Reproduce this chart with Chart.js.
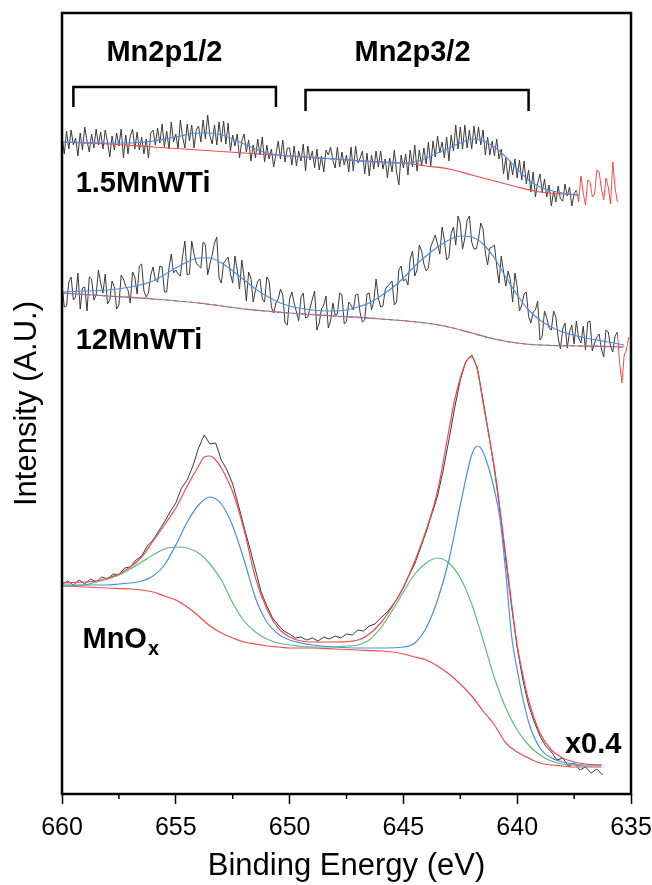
<!DOCTYPE html>
<html>
<head>
<meta charset="utf-8">
<title>Mn 2p XPS</title>
<script src="https://cdn.jsdelivr.net/npm/chart.js"></script>
<style>
  html, body { margin: 0; padding: 0; background: #fff; }
  #wrap { width: 652px; height: 885px; }
</style>
</head>
<body>
<div id="wrap"><canvas id="xps" width="652" height="885"></canvas></div>
<script>
// ---------------------------------------------------
// binding energy (eV) / intensity (a.u.)

// x axis
var majorTicks = [660, 655, 650, 645, 640, 635];
var minorTicks = [657.5, 652.5, 647.5, 642.5, 637.5];

// 1.5MnWTi (top) : raw every 0.1 eV from 660
var topRawStart = 660, topRawStep = 0.1;
var topRaw = [664, 646, 669, 651, 670, 655, 662, 644, 667, 650, 673, 659, 648, 666, 652, 671, 655, 668, 651, 670,
  658, 643, 664, 650, 667, 654, 671, 642, 665, 646, 664, 671, 651, 668, 650, 663, 646, 661, 642, 667,
  670, 655, 672, 657, 676, 653, 669, 651, 678, 658, 666, 651, 680, 663, 652, 676, 659, 675, 652, 670,
  674, 658, 680, 661, 685, 664, 656, 675, 655, 678, 658, 679, 656, 677, 649, 665, 654, 666, 642, 659,
  666, 648, 660, 639, 655, 642, 661, 645, 663, 638, 655, 641, 651, 633, 646, 659, 641, 660, 638, 652,
  652, 635, 654, 634, 649, 639, 656, 629, 654, 640, 649, 632, 651, 630, 644, 628, 650, 645, 653, 640,
  632, 653, 633, 648, 635, 645, 628, 653, 629, 654, 637, 642, 649, 626, 647, 624, 645, 631, 649, 633,
  649, 631, 641, 622, 642, 628, 650, 628, 615, 645, 632, 646, 625, 650, 633, 655, 629, 650, 634, 652,
  636, 658, 634, 659, 643, 664, 647, 658, 642, 663, 639, 665, 649, 675, 651, 673, 651, 675, 652, 670,
  651, 674, 656, 673, 655, 670, 645, 663, 645, 659, 644, 661, 641, 651, 626, 642, 620, 639, 625, 641,
  622, 640, 620, 639, 616, 630, 608, 628, 603, 617, 626, 608, 621, 603, 615, 594, 609, 598, 614, 601,
  599, 616, 604, 613, 594, 606, 610];
// end of the scan left outside the fit (red)
var topTailStart = 637.4, topTailStep = 0.1;
var topTail = [610, 598, 624, 607, 595, 620, 618, 603, 606, 630, 628, 611, 600, 622, 613, 596, 638, 612, 598];
var topFitE = [660, 658, 657, 656, 655, 654, 653.5, 653, 652.5, 652, 651.5, 651, 650.5, 650, 648, 646, 645, 644.5, 644, 643.5,
  643, 642.5, 642, 641.5, 641, 640.5, 640, 639.5, 639, 638, 637.3];
var topFit = [658, 657, 657, 659, 663, 667, 667, 665, 661, 656, 651, 647, 645, 644, 641, 638, 637, 638, 642, 647,
  652, 657, 661, 659, 653, 643, 631, 620, 613, 607, 605];
var topBgE = [660, 658, 656, 654, 652, 650, 648, 646, 645, 644, 643, 642, 641, 640, 639, 638, 637.3];
var topBg = [658, 656, 653, 650, 647, 644, 641, 638, 637, 634, 631, 625, 619, 613, 608, 606, 605];

// 12MnWTi (middle) : raw every 0.1 eV from 660
var midRawStart = 660, midRawStep = 0.1;
var midRaw = [516, 493, 494, 518, 523, 500, 503, 527, 491, 512, 513, 489, 523, 521, 500, 505, 530, 517, 507, 526,
  496, 500, 519, 513, 491, 495, 525, 521, 514, 510, 497, 528, 523, 506, 534, 536, 509, 503, 507, 525,
  533, 520, 518, 534, 533, 508, 508, 532, 546, 527, 530, 526, 524, 544, 559, 525, 526, 559, 546, 537,
  534, 532, 558, 555, 525, 536, 545, 557, 563, 522, 517, 537, 540, 543, 526, 517, 544, 530, 511, 540,
  523, 499, 528, 522, 498, 510, 519, 521, 501, 498, 523, 519, 493, 487, 497, 501, 511, 505, 477, 475,
  501, 508, 497, 488, 479, 503, 507, 482, 483, 492, 501, 509, 470, 477, 491, 495, 504, 472, 479, 497,
  485, 486, 507, 505, 476, 479, 498, 495, 490, 505, 506, 487, 478, 480, 506, 507, 490, 499, 521, 502,
  493, 494, 510, 514, 516, 519, 495, 498, 530, 534, 519, 521, 515, 541, 549, 524, 530, 555, 549, 536,
  529, 532, 553, 559, 565, 556, 546, 573, 560, 540, 543, 567, 573, 555, 584, 576, 551, 562, 580, 584,
  558, 551, 551, 561, 577, 571, 547, 535, 552, 553, 555, 534, 517, 544, 528, 514, 529, 520, 498, 527,
  513, 489, 495, 506, 508, 484, 477, 488, 490, 499, 460, 464, 489, 482, 472, 470, 489, 483, 462, 451,
  471, 477, 452, 468, 475, 456, 479, 462, 457, 474, 450, 478, 479, 449, 457, 463, 466, 451, 443, 470,
  468, 454, 448, 464, 468];
var midTailE = [635.6, 635.5, 635.4, 635.3, 635.2, 635.1];
var midTail = [468, 437, 417, 445, 450, 463];
var midFitE = [660, 659, 658, 657, 656, 655, 654.5, 654, 653.5, 653, 652.5, 652, 651.5, 651, 650.5, 650, 649, 648, 647.5, 647,
  646.5, 646, 645.5, 645, 644.5, 644, 643.5, 643, 642.5, 642, 641.5, 641, 640.5, 640, 639.5, 639, 638.5, 638, 637, 636, 635.3];
var midFit = [508, 509, 510, 513, 519, 532, 538, 542, 542, 537, 529, 520, 511, 504, 498, 494, 490, 489, 490, 493,
  497, 504, 512, 522, 534, 544, 553, 560, 564, 563, 556, 542, 523, 505, 490, 480, 473, 468, 462, 458, 455];
var midBgE = [660, 658, 656, 654, 652, 650, 648, 646, 644, 643, 642, 641, 640, 639, 637, 635.3];
var midBg = [507, 504, 501, 497, 491, 487, 484, 481, 477, 473, 467, 461, 457, 455, 454, 453];

// MnOx (bottom, x0.4) : raw every 0.25 eV from 660
var mnoxRawStart = 660, mnoxRawStep = 0.25;
var mnoxRaw = [216, 219, 215, 220, 216, 221, 218, 223, 221, 226,
  225, 232, 233, 240, 244, 254, 260, 269, 278, 288,
  297, 312, 320, 334, 352, 365, 356, 357, 340, 330,
  316, 295, 273, 252, 230, 208, 194, 182, 175, 169,
  166, 162, 163, 160, 162, 159, 163, 161, 164, 162,
  166, 165, 170, 169, 174, 176, 182, 187, 194, 202,
  212, 225, 236, 252, 268, 286, 304, 330, 360, 392,
  420, 439, 445, 432, 400, 366, 330, 288, 240, 194,
  152, 120, 95, 78, 64, 54, 48, 40, 42, 34,
  37, 30, 33, 27, 31, 25];
var mnoxEnvE = [660, 659, 658.5, 658, 657.5, 657, 656.5, 656, 655.5, 655, 654.5, 654, 653.75, 653.5, 653.25, 653, 652.5, 652, 651.5, 651,
  650.5, 650, 649.5, 649, 648, 647, 646.5, 646, 645.5, 645, 644.5, 644, 643.5, 643, 642.75, 642.5, 642.25, 642, 641.75, 641.5,
  641.25, 641, 640.75, 640.5, 640.25, 640, 639.75, 639.5, 639, 638.5, 638, 637.5, 637, 636.3];
var mnoxEnv = [217, 218, 219, 222, 226, 233, 243, 259, 275, 292, 314, 334, 343, 344, 340, 332, 308, 270, 222, 191,
  172, 163, 159, 158, 158, 160, 166, 177, 193, 213, 239, 270, 309, 370, 400, 422, 438, 443, 430, 397,
  365, 332, 290, 244, 197, 155, 125, 100, 67, 50, 42, 38, 36, 35];
var mnoxBlueE = [660, 658, 657.5, 657, 656.5, 656, 655.5, 655, 654.5, 654, 653.5, 653, 652.5, 652, 651.5, 651, 650.5, 650, 649.5, 649,
  648, 647, 646, 645, 644.5, 644, 643.5, 643, 642.5, 642, 641.75, 641.5, 641, 640.75, 640.5, 640.25, 640, 639.5, 639, 638.5,
  638, 637.5, 637, 636.3];
var mnoxBlue = [215, 215, 216, 217, 219, 224, 235, 255, 278, 295, 303, 296, 274, 240, 202, 178, 166, 160, 157, 155,
  153, 152, 152, 153, 157, 172, 200, 240, 295, 345, 354, 348, 310, 280, 227, 165, 130, 78, 52, 42,
  38, 36, 35, 35];
var mnoxGreenE = [660, 659, 658.5, 658, 657.5, 657, 656.5, 656, 655.5, 655, 654.5, 654, 653.5, 653, 652.5, 652, 651.5, 651, 650.5, 650,
  649, 648, 647.5, 647, 646.5, 646, 645.5, 645, 644.5, 644, 643.5, 643, 642.5, 642, 641.5, 641, 640.5, 640, 639.5, 639,
  638.5, 638, 637.5, 637, 636.3];
var mnoxGreen = [214, 215, 218, 221, 225, 231, 238, 245, 251, 253, 252, 247, 236, 220, 197, 179, 168, 161, 157, 155,
  153, 153, 154, 155, 160, 172, 189, 208, 226, 237, 242, 237, 222, 196, 160, 122, 92, 70, 55, 45,
  39, 36, 35, 34, 34];
var mnoxBgE = [660, 659, 658, 657, 656.5, 656, 655.5, 655, 654.5, 654, 653.5, 653, 652.5, 652, 651.5, 651, 650.5, 650, 649, 648,
  647, 646, 645.5, 645, 644.5, 644, 643.5, 643, 642.5, 642, 641.5, 641, 640.5, 640, 639.5, 639, 638.5, 638, 637.5, 637,
  636.5, 636.3];
var mnoxBg = [214, 213, 212, 211, 210, 208, 204, 200, 193, 184, 174, 167, 162, 158, 156, 154, 153, 152, 152, 151,
  150, 149, 148, 146, 143, 140, 134, 126, 116, 104, 89, 75, 57, 48, 42, 37, 35, 34, 33, 33,
  33, 33];

// peak brackets
var bracketLeft = [659.5, 649.3];
var bracketRight = [650.6, 639.5];
var bracketTop = [713, 710];
var bracketFoot = [693, 689];

// text labels (energy, intensity)
var labelText = ['Mn2p1/2', 'Mn2p3/2', '1.5MnWTi', '12MnWTi', 'MnO', 'x0.4'];
var labelSub = ['', '', '', '', 'x', ''];
var labelE = [655.5, 644.6, 659.4, 659.4, 659.1, 637.9];
var labelI = [747, 747, 616, 459, 160, 55];
var labelAlign = ['center', 'center', 'left', 'left', 'left', 'left'];

var RED = '#f24b4b', BLUE = '#4a8fe6', GREEN = '#5bbd7c', RAW = '#3a3a3a';
var FONT = "'Liberation Sans', Arial, Helvetica, sans-serif";

function pts(es, vs) {
  return vs.map(function (v, i) { return { x: es[i], y: v }; });
}
function stepPts(e0, step, vs) {
  return vs.map(function (v, i) { return { x: +(e0 - i * step).toFixed(2), y: v }; });
}
function fitLine(data, color, extra) {
  var ds = { data: data, borderColor: color, borderWidth: 1.2, pointRadius: 0,
    cubicInterpolationMode: 'monotone', fill: false };
  return Object.assign(ds, extra || {});
}
function rawLine(data, color) {
  return { data: data, borderColor: color, borderWidth: 1, pointRadius: 0, tension: 0, fill: false };
}

var datasets = [];
// brackets on top
for (var b = 0; b < bracketLeft.length; b++) {
  datasets.push({
    data: [{ x: bracketLeft[b], y: bracketFoot[b] }, { x: bracketLeft[b], y: bracketTop[b] },
           { x: bracketRight[b], y: bracketTop[b] }, { x: bracketRight[b], y: bracketFoot[b] }],
    borderColor: '#000', borderWidth: 2.5, pointRadius: 0, tension: 0, fill: false,
    borderJoinStyle: 'miter'
  });
}
// bottom: MnOx
datasets.push(fitLine(pts(mnoxEnvE, mnoxEnv), RED));
datasets.push(fitLine(pts(mnoxBlueE, mnoxBlue), BLUE));
datasets.push(fitLine(pts(mnoxGreenE, mnoxGreen), GREEN));
datasets.push(fitLine(pts(mnoxBgE, mnoxBg), RED));
datasets.push(rawLine(stepPts(mnoxRawStart, mnoxRawStep, mnoxRaw), RAW));
// middle: 12MnWTi
datasets.push(fitLine(pts(midFitE, midFit), BLUE));
datasets.push(fitLine(pts(midBgE, midBg), BLUE, { borderDash: [4, 4] }));
datasets.push(fitLine(pts(midBgE, midBg), RED));
datasets.push(rawLine(pts(midTailE, midTail), RED));
datasets.push(rawLine(stepPts(midRawStart, midRawStep, midRaw), RAW));
// top: 1.5MnWTi
datasets.push(fitLine(pts(topFitE, topFit), BLUE));
datasets.push(fitLine(pts(topBgE, topBg), RED));
datasets.push(rawLine(stepPts(topTailStart, topTailStep, topTail), RED));
datasets.push(rawLine(stepPts(topRawStart, topRawStep, topRaw), RAW));

// box, minor ticks and the text labels
var decorPlugin = {
  id: 'decor',
  afterDraw: function (chart) {
    var ctx = chart.ctx, a = chart.chartArea;
    var xs = chart.scales.x, ys = chart.scales.y;
    ctx.save();
    ctx.strokeStyle = '#000';
    ctx.lineWidth = 2.5;
    ctx.strokeRect(a.left, a.top, a.right - a.left, a.bottom - a.top);

    ctx.lineWidth = 1.5;
    minorTicks.forEach(function (t) {
      var px = xs.getPixelForValue(t);
      ctx.beginPath();
      ctx.moveTo(px, a.bottom);
      ctx.lineTo(px, a.bottom + 5);
      ctx.stroke();
    });

    ctx.fillStyle = '#000';
    ctx.textBaseline = 'middle';
    for (var i = 0; i < labelText.length; i++) {
      var px = xs.getPixelForValue(labelE[i]);
      var py = ys.getPixelForValue(labelI[i]);
      ctx.font = 'bold 29px ' + FONT;
      ctx.textAlign = labelAlign[i];
      ctx.fillText(labelText[i], px, py);
      if (labelSub[i]) {
        var w = ctx.measureText(labelText[i]).width;
        ctx.font = 'bold 20px ' + FONT;
        ctx.textAlign = 'left';
        ctx.fillText(labelSub[i], px + w + 1, py + 9);
      }
    }
    ctx.restore();
  }
};

Chart.defaults.font.family = FONT;
Chart.defaults.color = '#000';

new Chart(document.getElementById('xps'), {
  type: 'line',
  data: { datasets: datasets },
  options: {
    responsive: false,
    animation: false,
    devicePixelRatio: 1,
    layout: { padding: { top: 13, right: 21, bottom: 0, left: 0 } },
    plugins: { legend: { display: false }, tooltip: { enabled: false } },
    scales: {
      x: {
        type: 'linear',
        reverse: true,
        min: 635,
        max: 660,
        afterBuildTicks: function (scale) {
          scale.ticks = majorTicks.map(function (v) { return { value: v }; });
        },
        // keep the plot box where the figure has it
        afterFit: function (scale) {
          scale.height = 91;
          scale.paddingLeft = 0;
          scale.paddingRight = 0;
        },
        ticks: { font: { size: 25 }, color: '#000', padding: 9 },
        grid: { drawOnChartArea: false, drawTicks: true, tickLength: 10, tickColor: '#000', tickWidth: 1.5 },
        border: { display: false },
        title: { display: true, text: 'Binding Energy (eV)', font: { size: 31 }, color: '#000',
          padding: { top: 4, bottom: 0 } }
      },
      y: {
        min: 6,
        max: 787,
        afterFit: function (scale) {
          scale.width = 62;
        },
        ticks: { display: false },
        grid: { display: false, drawTicks: false },
        border: { display: false },
        title: { display: true, text: 'Intensity (A.U.)', font: { size: 31 }, color: '#000',
          padding: { top: 9, bottom: 16 } }
      }
    }
  },
  plugins: [decorPlugin]
});
</script>
</body>
</html>
